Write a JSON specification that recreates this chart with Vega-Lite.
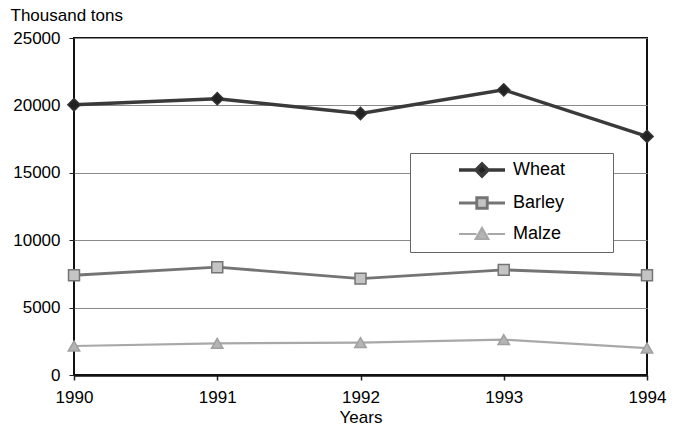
{
  "$schema": "https://vega.github.io/schema/vega-lite/v6.json",
  "width": 573,
  "height": 337,
  "autosize": "none",
  "padding": {"left": 74, "top": 38, "right": 31, "bottom": 50},
  "background": "white",
  "config": {"view": {"stroke": "#111111", "strokeWidth": 2}, "font": "Liberation Sans"},
  "data": {"values": [
    {"Year": "1990", "Crop": "Wheat", "Value": 20050},
    {"Year": "1991", "Crop": "Wheat", "Value": 20500},
    {"Year": "1992", "Crop": "Wheat", "Value": 19400},
    {"Year": "1993", "Crop": "Wheat", "Value": 21150},
    {"Year": "1994", "Crop": "Wheat", "Value": 17700},
    {"Year": "1990", "Crop": "Barley", "Value": 7400},
    {"Year": "1991", "Crop": "Barley", "Value": 8000},
    {"Year": "1992", "Crop": "Barley", "Value": 7150},
    {"Year": "1993", "Crop": "Barley", "Value": 7800},
    {"Year": "1994", "Crop": "Barley", "Value": 7400},
    {"Year": "1990", "Crop": "Malze", "Value": 2150},
    {"Year": "1991", "Crop": "Malze", "Value": 2350},
    {"Year": "1992", "Crop": "Malze", "Value": 2400},
    {"Year": "1993", "Crop": "Malze", "Value": 2620},
    {"Year": "1994", "Crop": "Malze", "Value": 2000}
  ]},
  "encoding": {
    "x": {
      "field": "Year", "type": "ordinal",
      "scale": {"type": "point", "padding": 0},
      "axis": {
        "title": "Years", "titleFontSize": 17, "titleFontWeight": "normal", "titleColor": "black", "titlePadding": 4,
        "labelAngle": 0, "labelFontSize": 17, "labelColor": "black", "labelPadding": 9,
        "tickSize": 5, "tickColor": "#222222", "tickWidth": 1.5,
        "domainColor": "#111111", "domainWidth": 2.5, "grid": false
      }
    },
    "y": {
      "field": "Value", "type": "quantitative",
      "scale": {"domain": [0, 25000], "nice": false},
      "axis": {
        "title": "Thousand tons", "titleAngle": 0, "titleX": -64, "titleY": -23,
        "titleAlign": "left", "titleBaseline": "middle", "titleFontSize": 17,
        "titleFontWeight": "normal", "titleColor": "black",
        "values": [0, 5000, 10000, 15000, 20000, 25000], "format": "d",
        "labelFontSize": 17, "labelColor": "black", "labelPadding": 9,
        "tickSize": 5, "tickColor": "#222222", "domain": false,
        "gridColor": "#8a8a8a", "gridWidth": 1.2
      }
    }
  },
  "layer": [
    {
      "mark": {"type": "line"},
      "encoding": {
        "stroke": {
          "field": "Crop", "type": "nominal",
          "scale": {"domain": ["Wheat", "Barley", "Malze"], "range": ["#3a3a3a", "#747474", "#a8a8a8"]},
          "legend": {
            "title": null, "orient": "none", "legendX": 336, "legendY": 115,
            "fillColor": "white", "strokeColor": "#666666", "padding": 8,
            "symbolSize": 100, "symbolOffset": 55, "labelOffset": 22,
            "labelFontSize": 18, "labelColor": "black", "rowPadding": 9,
            "labelExpr": "datum.label + '\u2800\u2800\u2800'",
            "encode": {
              "symbols": {
                "update": {
                  "shape": {"signal": "datum.value === 'Wheat' ? 'M-4.6,0H-1.2M1.2,0H4.6M0,-1.2L1.2,0L0,1.2L-1.2,0Z' : datum.value === 'Barley' ? 'M-4.6,0H-1.05M1.05,0H4.6M-1.05,-1.05H1.05V1.05H-1.05Z' : 'M-4.6,0H-1.1M1.1,0H4.6M0,-1.2L1.25,1H-1.25Z'"},
                  "fill": {"signal": "datum.value === 'Wheat' ? '#222222' : datum.value === 'Barley' ? '#c4c4c4' : '#b4b4b4'"},
                  "stroke": {"signal": "datum.value === 'Wheat' ? '#333333' : datum.value === 'Barley' ? '#747474' : '#a0a0a0'"},
                  "strokeWidth": {"signal": "datum.value === 'Wheat' ? 3 : 2"},
                  "opacity": {"value": 1}
                }
              }
            }
          }
        },
        "strokeWidth": {
          "field": "Crop", "type": "nominal",
          "scale": {"domain": ["Wheat", "Barley", "Malze"], "range": [3.5, 2.2, 2]},
          "legend": null
        }
      }
    },
    {
      "transform": [{"filter": "datum.Crop === 'Wheat'"}],
      "mark": {"type": "point", "shape": "diamond", "filled": true, "size": 150, "opacity": 1, "fill": "#222222", "stroke": "#333333", "strokeWidth": 1.5}
    },
    {
      "transform": [{"filter": "datum.Crop === 'Barley'"}],
      "mark": {"type": "point", "shape": "square", "filled": true, "size": 120, "opacity": 1, "fill": "#c4c4c4", "stroke": "#747474", "strokeWidth": 1.5}
    },
    {
      "transform": [{"filter": "datum.Crop === 'Malze'"}],
      "mark": {"type": "point", "shape": "triangle-up", "filled": true, "size": 130, "opacity": 1, "fill": "#b4b4b4", "stroke": "#a0a0a0", "strokeWidth": 1.5}
    }
  ]
}
